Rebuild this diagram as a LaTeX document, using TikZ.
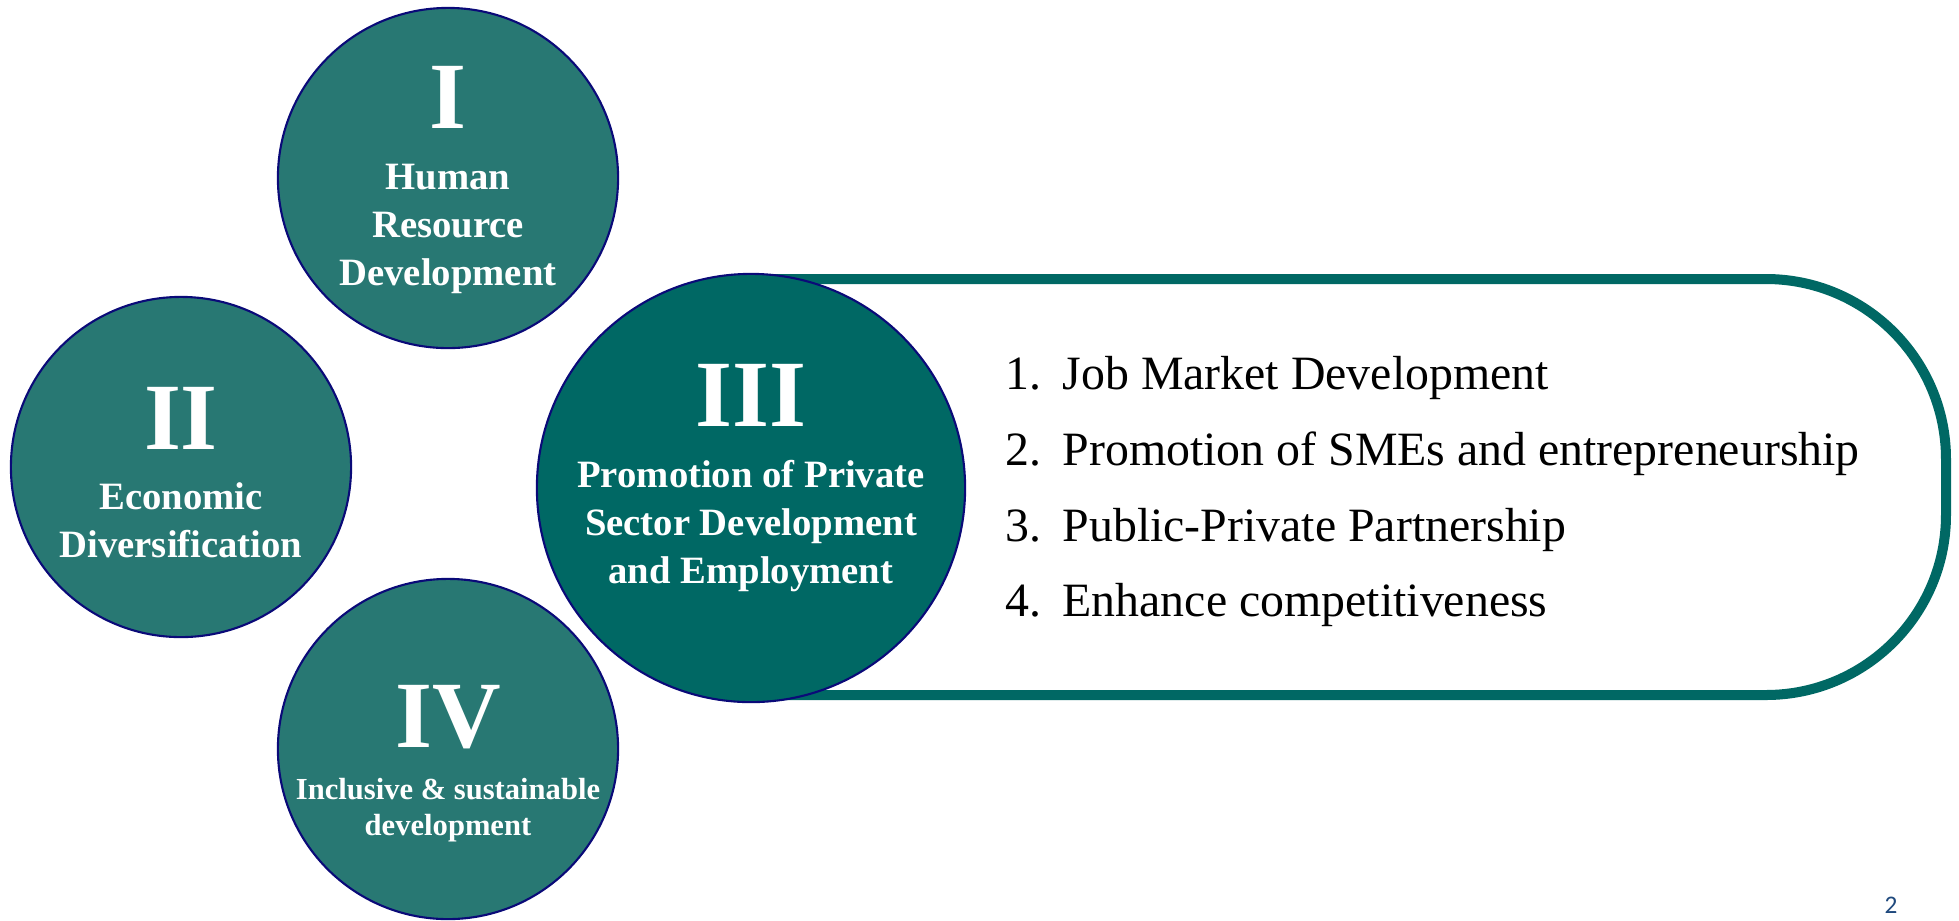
\documentclass[tikz,border=0pt]{standalone}
\usepackage{fontspec}
\setmainfont{Liberation Serif}
\newfontfamily\pagefont{Carlito}
\definecolor{pillarteal}{RGB}{0,104,100}
\definecolor{pillarfill}{RGB}{40,120,115}
\definecolor{rimblue}{RGB}{10,10,120}
\definecolor{pageblue}{RGB}{31,73,125}
\tikzset{
  pillar/.style={circle, draw=rimblue, line width=0.6pt, fill=pillarfill,
    minimum size=3.4cm, inner sep=0pt},
  mainpillar/.style={pillar, fill=pillarteal, minimum size=4.28cm},
  numeral/.style={anchor=base, inner sep=0pt, text=white,
    font=\fontsize{27}{27}\selectfont\bfseries},
  % multi-line titles sit on the baseline of their last line
  pillartext/.style={anchor=base, inner sep=0pt, text=white, align=center,
    font=\fontsize{11}{13.6}\selectfont\bfseries},
  smalltext/.style={pillartext, font=\fontsize{8.7}{10.2}\selectfont\bfseries},
  panel/.style={draw=pillarteal, line width=0.1cm, rounded corners=1.8cm},
  listitem/.style={anchor=base west, inner sep=0pt,
    font=\fontsize{13.6}{16}\selectfont}
}
\begin{document}
\begin{tikzpicture}[x=0.01cm, y=-0.01cm]
  \useasboundingbox (0,0) rectangle (1959,920);

  % the three side pillars
  \node[pillar] (c1) at (448,178) {};
  \node[pillar] (c2) at (181,467) {};
  \node[pillar] (c4) at (448,749) {};

  % panel behind the main pillar
  \coordinate (ptop) at (751,279);
  \coordinate (pbot) at (751,695);
  \draw[panel] (ptop) -- (1946,279) -- (1946,695) -- (pbot);

  \node[mainpillar] (c3) at (751,488) {};

  % numerals and titles
  \node[numeral] (n1) at (448,128) {I};
  \node[pillartext] (t1) at (448,285) {Human\\Resource\\Development};
  \node[numeral] (n2) at (181,449) {II};
  \node[pillartext] (t2) at (181,557) {Economic\\Diversification};
  \node[numeral] (n3) at (751,426) {III};
  \node[pillartext] (t3) at (751,583) {Promotion of Private\\Sector Development\\and Employment};
  \node[numeral] (n4) at (448,747) {IV};
  \node[smalltext] (t4) at (448,835) {Inclusive \& sustainable\\development};

  % list in the panel
  \foreach \i/\txt in {1/Job Market Development,
                       2/Promotion of SMEs and entrepreneurship,
                       3/Public-Private Partnership,
                       4/Enhance competitiveness}
    \node[listitem] (item\i) at (1005,314+75.7*\i) {\makebox[0.57cm][l]{\i.}\txt};

  \node[anchor=base, inner sep=0pt, text=pageblue,
        font=\pagefont\fontsize{7.2}{8}\selectfont] (page) at (1891,913) {2};
\end{tikzpicture}
\end{document}
